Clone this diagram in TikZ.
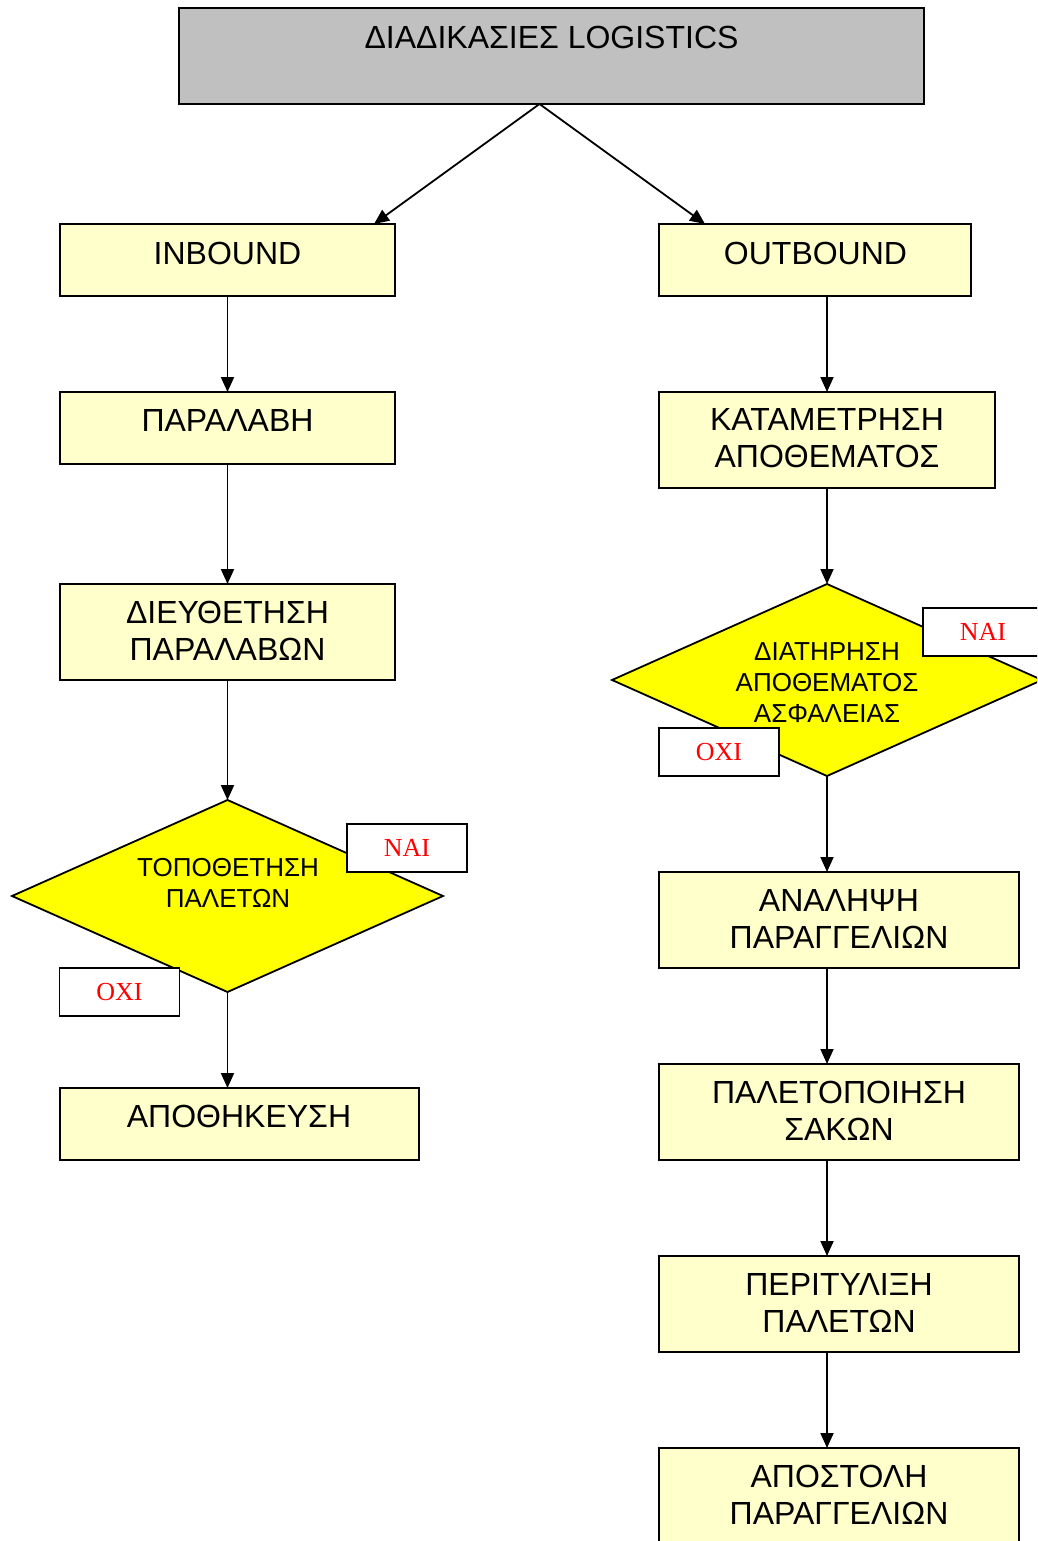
\documentclass[tikz,border=0pt]{standalone}
\usepackage{fontspec}
\setmainfont{Liberation Sans}
\newfontfamily\serifgr{Liberation Serif}
\usetikzlibrary{shapes.geometric,arrows.meta,calc}
\definecolor{boxy}{HTML}{FFFFCC}
\definecolor{diay}{HTML}{FFFF00}
\definecolor{titlegray}{HTML}{C0C0C0}
\definecolor{lblred}{HTML}{FF0000}
\begin{document}
\begin{tikzpicture}[x=1pt,y=-1pt,
  ybox/.style={draw=black, line width=1.8pt, fill=boxy, inner sep=0pt, outer sep=0pt},
  dia/.style={diamond, draw=black, line width=1.8pt, fill=diay, inner sep=0pt, outer sep=0pt},
  btxt/.style={inner sep=0pt, align=center, font=\fontsize{32}{37}\selectfont},
  dtxt/.style={inner sep=0pt, align=center, font=\fontsize{26}{31}\selectfont},
  lbl/.style={draw=black, line width=1.8pt, fill=white, inner sep=0pt, outer sep=0pt,
    minimum width=120pt, minimum height=48pt, text=lblred, font=\serifgr\fontsize{26}{30}\selectfont},
  arr/.style={line width=1.8pt, -{Triangle[length=15pt,width=13pt]}}]
\clip (0,0) rectangle (1037,1541);
\fill[white] (0,0) rectangle (1037,1541);

% title
\node[ybox, fill=titlegray, minimum width=745pt, minimum height=96pt] (title) at (551.5,56) {};
\node[btxt] (titleT) at (551.5,37) {ΔΙΑΔΙΚΑΣΙΕΣ LOGISTICS};

% left column
\node[ybox, minimum width=335pt, minimum height=72pt] (inb) at (227.5,260) {};
\node[btxt] (inbT) at (227.5,253) {INBOUND};
\node[ybox, minimum width=335pt, minimum height=72pt] (par) at (227.5,428) {};
\node[btxt] (parT) at (227.5,420) {ΠΑΡΑΛΑΒΗ};
\node[ybox, minimum width=335pt, minimum height=96pt] (dieu) at (227.5,632) {};
\node[btxt] (dieuT) at (227.5,630.5) {ΔΙΕΥΘΕΤΗΣΗ\\ΠΑΡΑΛΑΒΩΝ};
\node[dia, minimum width=431pt, minimum height=192pt] (topo) at (227.5,896) {};
\node[dtxt] (topoT) at (228,883) {ΤΟΠΟΘΕΤΗΣΗ\\ΠΑΛΕΤΩΝ};
\node[lbl] (nai1) at (407,848) {\raisebox{-2pt}{ΝΑΙ}};
\node[lbl] (oxi1) at (119.5,992) {\raisebox{-2pt}{ΟΧΙ}};
\node[ybox, minimum width=359pt, minimum height=72pt] (apoth) at (239.5,1124) {};
\node[btxt] (apothT) at (239,1116) {ΑΠΟΘΗΚΕΥΣΗ};

% right column
\node[ybox, minimum width=312pt, minimum height=72pt] (outb) at (815,260) {};
\node[btxt] (outbT) at (815.5,253) {OUTBOUND};
\node[ybox, minimum width=336pt, minimum height=96pt] (kat) at (827,440) {};
\node[btxt] (katT) at (827,438.5) {ΚΑΤΑΜΕΤΡΗΣΗ\\ΑΠΟΘΕΜΑΤΟΣ};
\node[dia, minimum width=430pt, minimum height=192pt] (diat) at (827,680) {};
\node[dtxt] (diatT) at (827,683) {ΔΙΑΤΗΡΗΣΗ\\ΑΠΟΘΕΜΑΤΟΣ\\ΑΣΦΑΛΕΙΑΣ};
\node[lbl] (nai2) at (983,632) {\raisebox{-2pt}{ΝΑΙ}};
\node[lbl] (oxi2) at (719,752) {\raisebox{-2pt}{ΟΧΙ}};
\node[ybox, minimum width=360pt, minimum height=96pt] (anal) at (839,920) {};
\node[btxt] (analT) at (839,918.5) {ΑΝΑΛΗΨΗ\\ΠΑΡΑΓΓΕΛΙΩΝ};
\node[ybox, minimum width=360pt, minimum height=96pt] (palet) at (839,1112) {};
\node[btxt] (paletT) at (839,1110.5) {ΠΑΛΕΤΟΠΟΙΗΣΗ\\ΣΑΚΩΝ};
\node[ybox, minimum width=360pt, minimum height=96pt] (perit) at (839,1304) {};
\node[btxt] (peritT) at (839,1302.5) {ΠΕΡΙΤΥΛΙΞΗ\\ΠΑΛΕΤΩΝ};
\node[ybox, minimum width=360pt, minimum height=96pt] (apost) at (839,1496) {};
\node[btxt] (apostT) at (839,1495) {ΑΠΟΣΤΟΛΗ\\ΠΑΡΑΓΓΕΛΙΩΝ};

% connectors
\coordinate (apex) at ($(title.south)+(-12,0)$);
\draw[arr] (apex) -- ($(inb.north east)+(-21,0)$);
\draw[arr] (apex) -- ($(outb.north west)+(46,0)$);
\draw[arr] (inb.south) -- (par.north);
\draw[arr] (par.south) -- (dieu.north);
\draw[arr] (dieu.south) -- (topo.north);
\draw[arr] (topo.south) -- (topo.south |- apoth.north);
\draw[arr] (outb.south -| kat.north) -- (kat.north);
\draw[arr] (kat.south) -- (diat.north);
\draw[arr] (diat.south) -- (diat.south |- anal.north);
\draw[arr] (anal.south -| diat.south) -- (diat.south |- palet.north);
\draw[arr] (palet.south -| diat.south) -- (diat.south |- perit.north);
\draw[arr] (perit.south -| diat.south) -- (diat.south |- apost.north);
\end{tikzpicture}
\end{document}
